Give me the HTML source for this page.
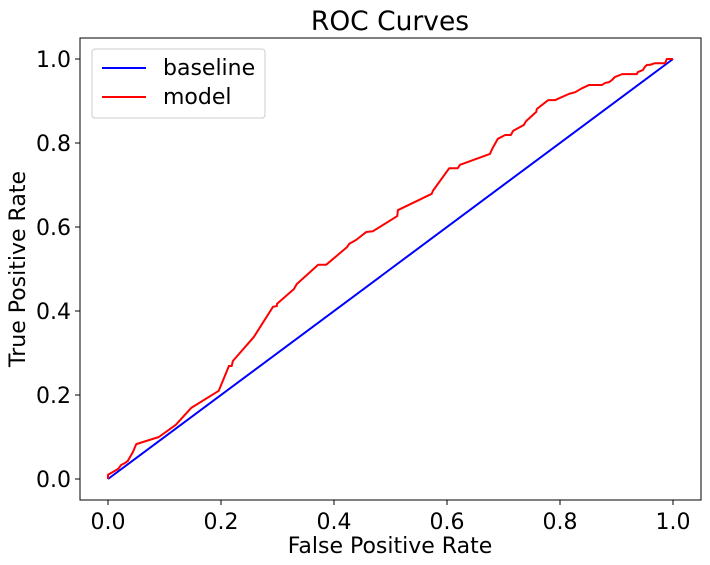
<!DOCTYPE html>
<html><head><meta charset="utf-8"><style>
body{margin:0;background:#fff;}
svg{display:block;font-family:"DejaVu Sans","Liberation Sans",sans-serif;}
</style></head><body>
<svg id="chart" width="710" height="565">
<text x="390" y="30" font-size="26.5" text-anchor="middle">ROC Curves</text>
<rect x="80" y="38" width="621" height="462" fill="none" stroke="#000" stroke-width="1"/>
<g id="xt"></g>
<g id="yt"></g>
<text x="390" y="553" font-size="22" text-anchor="middle">False Positive Rate</text>
<text transform="translate(25,269) rotate(-90)" font-size="22" text-anchor="middle">True Positive Rate</text>
<g id="series"></g>
<g>
<rect x="92" y="49" width="173" height="69" rx="3" fill="#fff" stroke="#ccc"/>
<line x1="102" y1="68" x2="146" y2="68" stroke="#0000ff" stroke-width="2"/>
<text x="163" y="75" font-size="22">baseline</text>
<line x1="102" y1="97" x2="146" y2="97" stroke="#ff0000" stroke-width="2"/>
<text x="163" y="104" font-size="22">model</text>
</g>
</svg>
<script>
const xTicks=[0,0.2,0.4,0.6,0.8,1.0];
const yTicks=[0,0.2,0.4,0.6,0.8,1.0];
const baselineFpr=[0,1];
const baselineTpr=[0,1];
const modelFpr=[0,0,0.009,0.018,0.023,0.030,0.035,0.044,0.050,0.090,0.120,0.147,0.196,0.214,0.219,0.221,0.258,0.292,0.299,0.299,0.329,0.334,0.372,0.386,0.423,0.427,0.439,0.457,0.469,0.512,0.513,0.573,0.575,0.604,0.619,0.623,0.676,0.680,0.690,0.703,0.713,0.717,0.736,0.740,0.758,0.759,0.779,0.791,0.816,0.827,0.837,0.851,0.874,0.880,0.887,0.892,0.897,0.910,0.936,0.938,0.947,0.950,0.954,0.959,0.968,0.986,0.989,1.0];
const modelTpr=[0,0.010,0.017,0.024,0.033,0.038,0.043,0.064,0.083,0.100,0.129,0.169,0.210,0.269,0.269,0.281,0.338,0.410,0.412,0.417,0.452,0.464,0.510,0.510,0.552,0.560,0.569,0.588,0.590,0.626,0.640,0.679,0.686,0.740,0.740,0.748,0.774,0.786,0.810,0.819,0.819,0.829,0.843,0.852,0.874,0.881,0.902,0.902,0.917,0.921,0.929,0.938,0.938,0.943,0.945,0.950,0.957,0.964,0.964,0.969,0.974,0.981,0.986,0.986,0.990,0.990,1.0,1.0];
const NS="http://www.w3.org/2000/svg";
const X=v=>108+v*565, Y=v=>479-v*420;
const xt=document.getElementById('xt'), yt=document.getElementById('yt'), sg=document.getElementById('series');
function mk(t,a,p){const e=document.createElementNS(NS,t);for(const k in a)e.setAttribute(k,a[k]);p.appendChild(e);return e;}
xTicks.forEach(v=>{
 const l=mk('line',{x1:X(v),x2:X(v),y1:500,y2:505,stroke:'#000'},xt);
 
 
 const t=mk('text',{x:X(v),y:529,'font-size':22,'text-anchor':'middle'},xt);t.textContent=v.toFixed(1);
 
 
});
yTicks.forEach(v=>{
 const l=mk('line',{x1:75,x2:80,y1:Y(v),y2:Y(v),stroke:'#000'},yt);
 
 
 const t=mk('text',{x:71,y:Y(v)+8,'font-size':22,'text-anchor':'end'},yt);t.textContent=v.toFixed(1);
 
 
});
const b=mk('polyline',{points:baselineFpr.map((v,i)=>X(v)+','+Y(baselineTpr[i])).join(' '),fill:'none',stroke:'#0000ff','stroke-width':2},sg);


const m=mk('polyline',{points:modelFpr.map((v,i)=>X(v)+','+Y(modelTpr[i])).join(' '),fill:'none',stroke:'#ff0000','stroke-width':2,'stroke-linejoin':'round'},sg);


</script>
</body></html>
